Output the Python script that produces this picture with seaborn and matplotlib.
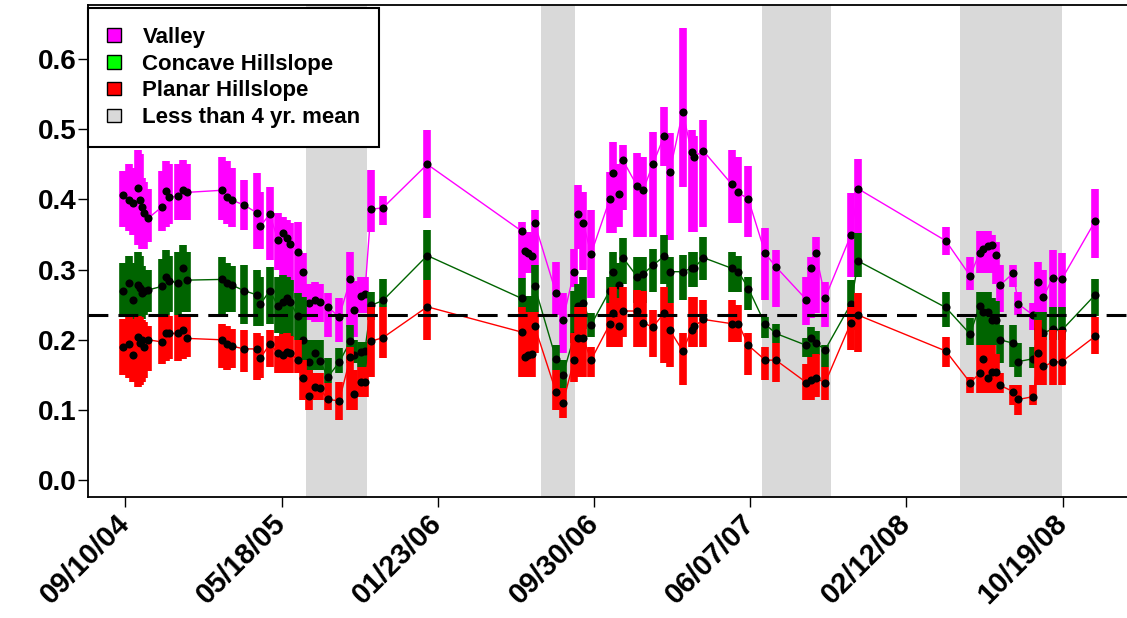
import numpy as np
import pandas as pd
import matplotlib
matplotlib.use("Agg")
import matplotlib.pyplot as plt
from matplotlib.patches import Patch
import seaborn as sns

# days after 09/10/04 for each sampling date
days = [-4, 6, 12, 20, 23, 26, 30, 36,
        58, 65, 70, 84, 92, 98,
        154, 162, 170, 190, 210, 216, 231, 244, 252, 258, 263, 276, 284,
        294, 303, 311, 324, 342, 360, 365, 377, 383, 393, 412, 483,
        634, 639, 645, 650, 655, 689, 700, 718, 725, 733, 745,
        775, 781, 790, 796, 819, 829, 844, 862, 871, 892, 906, 910, 925,
        970, 981, 997, 1024, 1041, 1090, 1098, 1105, 1120, 1161, 1173,
        1313, 1352, 1367, 1373, 1380, 1387, 1394, 1400, 1421, 1429, 1453,
        1461, 1469, 1484, 1499, 1552]

valley = [0.406, 0.399, 0.395, 0.416, 0.399, 0.389, 0.380, 0.373,
          0.389, 0.412, 0.403, 0.405, 0.413, 0.410,
          0.413, 0.404, 0.399, 0.392, 0.381, 0.362, 0.379, 0.342, 0.352, 0.345, 0.336, 0.325, 0.296,
          0.252, 0.257, 0.254, 0.246, 0.233, 0.286, 0.243, 0.263, 0.265, 0.386, 0.388, 0.450,
          0.355, 0.327, 0.323, 0.320, 0.366, 0.267, 0.228, 0.297, 0.379, 0.366, 0.322,
          0.400, 0.437, 0.408, 0.456, 0.419, 0.414, 0.450, 0.490, 0.439, 0.525, 0.467, 0.461, 0.469,
          0.422, 0.410, 0.400, 0.323, 0.304, 0.257, 0.302, 0.323, 0.260, 0.349, 0.415,
          0.341, 0.291, 0.324, 0.330, 0.333, 0.335, 0.321, 0.278, 0.295, 0.251, 0.235,
          0.283, 0.261, 0.288, 0.287, 0.369]
valley_lo = [0.360, 0.355, 0.350, 0.335, 0.335, 0.330, 0.330, 0.340,
             0.355, 0.360, 0.365, 0.370, 0.370, 0.370,
             0.370, 0.365, 0.360, 0.356, 0.330, 0.330, 0.314, 0.300, 0.290, 0.280, 0.270, 0.260, 0.261,
             0.228, 0.225, 0.225, 0.204, 0.197, 0.218, 0.204, 0.238, 0.238, 0.354, 0.363, 0.373,
             0.288, 0.295, 0.295, 0.295, 0.306, 0.235, 0.181, 0.275, 0.330, 0.300, 0.260,
             0.352, 0.352, 0.360, 0.385, 0.347, 0.347, 0.347, 0.447, 0.342, 0.418, 0.354, 0.354, 0.361,
             0.366, 0.366, 0.347, 0.257, 0.247, 0.221, 0.231, 0.238, 0.218, 0.290, 0.352,
             0.321, 0.271, 0.295, 0.295, 0.295, 0.295, 0.280, 0.240, 0.275, 0.235, 0.214,
             0.218, 0.228, 0.238, 0.235, 0.316]
valley_hi = [0.440, 0.450, 0.445, 0.470, 0.465, 0.430, 0.425, 0.415,
             0.440, 0.455, 0.450, 0.450, 0.456, 0.450,
             0.460, 0.455, 0.445, 0.428, 0.437, 0.410, 0.418, 0.380, 0.375, 0.370, 0.366, 0.368, 0.323,
             0.280, 0.283, 0.280, 0.266, 0.259, 0.325, 0.284, 0.290, 0.290, 0.442, 0.405, 0.499,
             0.368, 0.354, 0.354, 0.350, 0.385, 0.311, 0.266, 0.330, 0.420, 0.410, 0.385,
             0.439, 0.482, 0.450, 0.477, 0.466, 0.460, 0.496, 0.532, 0.494, 0.644, 0.499, 0.490, 0.513,
             0.470, 0.460, 0.447, 0.359, 0.328, 0.290, 0.318, 0.346, 0.283, 0.409, 0.458,
             0.360, 0.318, 0.355, 0.355, 0.355, 0.350, 0.340, 0.306, 0.306, 0.268, 0.252,
             0.311, 0.299, 0.328, 0.323, 0.415]

concave = [0.270, 0.281, 0.257, 0.278, 0.274, 0.266, 0.270, 0.271,
           0.276, 0.290, 0.284, 0.281, 0.302, 0.285,
           0.286, 0.281, 0.278, 0.270, 0.264, 0.251, 0.270, 0.248, 0.254, 0.259, 0.254, 0.234, 0.200,
           0.168, 0.181, 0.170, 0.147, 0.168, 0.198, 0.178, 0.183, 0.184, 0.249, 0.256, 0.320,
           0.259, 0.232, 0.230, 0.232, 0.276, 0.173, 0.150, 0.205, 0.248, 0.253, 0.221,
           0.270, 0.297, 0.278, 0.317, 0.290, 0.294, 0.306, 0.319, 0.297, 0.297, 0.302, 0.302, 0.317,
           0.302, 0.297, 0.273, 0.222, 0.209, 0.192, 0.202, 0.195, 0.186, 0.251, 0.312,
           0.246, 0.208, 0.248, 0.240, 0.240, 0.228, 0.228, 0.200, 0.195, 0.169, 0.173,
           0.215, 0.210, 0.215, 0.214, 0.264]
concave_lo = [0.235, 0.235, 0.230, 0.230, 0.230, 0.230, 0.235, 0.240,
              0.235, 0.235, 0.240, 0.235, 0.240, 0.240,
              0.237, 0.240, 0.240, 0.222, 0.220, 0.220, 0.222, 0.210, 0.205, 0.205, 0.204, 0.200, 0.157,
              0.150, 0.157, 0.157, 0.138, 0.152, 0.167, 0.167, 0.161, 0.161, 0.228, 0.247, 0.285,
              0.240, 0.215, 0.215, 0.215, 0.240, 0.157, 0.131, 0.195, 0.210, 0.215, 0.204,
              0.252, 0.252, 0.255, 0.280, 0.252, 0.252, 0.268, 0.280, 0.252, 0.257, 0.275, 0.275, 0.285,
              0.268, 0.268, 0.242, 0.202, 0.195, 0.176, 0.176, 0.178, 0.161, 0.214, 0.290,
              0.218, 0.192, 0.192, 0.192, 0.192, 0.192, 0.192, 0.167, 0.161, 0.147, 0.160,
              0.200, 0.200, 0.200, 0.200, 0.234]
concave_hi = [0.310, 0.320, 0.310, 0.325, 0.320, 0.305, 0.300, 0.300,
              0.315, 0.328, 0.320, 0.325, 0.335, 0.325,
              0.318, 0.310, 0.305, 0.306, 0.300, 0.290, 0.304, 0.290, 0.292, 0.290, 0.285, 0.266, 0.261,
              0.200, 0.200, 0.200, 0.174, 0.188, 0.221, 0.200, 0.197, 0.197, 0.268, 0.287, 0.356,
              0.288, 0.262, 0.262, 0.262, 0.306, 0.192, 0.171, 0.270, 0.280, 0.290, 0.238,
              0.290, 0.325, 0.310, 0.345, 0.318, 0.318, 0.330, 0.349, 0.318, 0.321, 0.325, 0.325, 0.347,
              0.325, 0.320, 0.290, 0.233, 0.223, 0.202, 0.218, 0.213, 0.192, 0.285, 0.352,
              0.268, 0.231, 0.268, 0.268, 0.268, 0.260, 0.255, 0.221, 0.221, 0.195, 0.190,
              0.240, 0.240, 0.247, 0.247, 0.287]

planar = [0.190, 0.194, 0.178, 0.204, 0.196, 0.199, 0.190, 0.200,
          0.197, 0.209, 0.209, 0.209, 0.214, 0.202,
          0.200, 0.194, 0.191, 0.187, 0.187, 0.174, 0.194, 0.181, 0.179, 0.183, 0.181, 0.171, 0.145,
          0.120, 0.133, 0.131, 0.115, 0.113, 0.175, 0.123, 0.140, 0.140, 0.198, 0.203, 0.247,
          0.211, 0.176, 0.178, 0.180, 0.219, 0.126, 0.110, 0.171, 0.202, 0.202, 0.171,
          0.222, 0.238, 0.219, 0.241, 0.241, 0.224, 0.218, 0.238, 0.214, 0.184, 0.214, 0.219, 0.229,
          0.223, 0.223, 0.192, 0.171, 0.171, 0.139, 0.143, 0.145, 0.139, 0.224, 0.235,
          0.184, 0.139, 0.152, 0.173, 0.145, 0.154, 0.154, 0.135, 0.126, 0.115, 0.119,
          0.181, 0.162, 0.168, 0.169, 0.205]
planar_lo = [0.150, 0.145, 0.140, 0.133, 0.135, 0.140, 0.145, 0.155,
             0.165, 0.170, 0.172, 0.170, 0.172, 0.175,
             0.160, 0.157, 0.160, 0.154, 0.142, 0.145, 0.161, 0.152, 0.152, 0.152, 0.152, 0.152, 0.114,
             0.100, 0.114, 0.114, 0.100, 0.086, 0.100, 0.100, 0.119, 0.119, 0.147, 0.174, 0.200,
             0.147, 0.147, 0.147, 0.147, 0.181, 0.100, 0.088, 0.140, 0.147, 0.147, 0.147,
             0.190, 0.190, 0.190, 0.204, 0.190, 0.190, 0.176, 0.167, 0.161, 0.135, 0.190, 0.190, 0.190,
             0.197, 0.197, 0.150, 0.142, 0.140, 0.114, 0.114, 0.118, 0.114, 0.185, 0.183,
             0.161, 0.124, 0.124, 0.124, 0.124, 0.124, 0.124, 0.124, 0.107, 0.093, 0.107,
             0.135, 0.135, 0.135, 0.135, 0.180]
planar_hi = [0.230, 0.234, 0.230, 0.234, 0.232, 0.228, 0.225, 0.220,
             0.232, 0.236, 0.234, 0.236, 0.236, 0.232,
             0.222, 0.220, 0.215, 0.214, 0.210, 0.205, 0.214, 0.206, 0.208, 0.210, 0.206, 0.200, 0.171,
             0.157, 0.152, 0.152, 0.138, 0.140, 0.190, 0.157, 0.161, 0.161, 0.247, 0.247, 0.285,
             0.247, 0.240, 0.240, 0.240, 0.240, 0.157, 0.131, 0.210, 0.247, 0.247, 0.190,
             0.252, 0.275, 0.260, 0.275, 0.271, 0.270, 0.242, 0.275, 0.252, 0.209, 0.261, 0.261, 0.257,
             0.257, 0.250, 0.209, 0.190, 0.195, 0.166, 0.176, 0.180, 0.161, 0.247, 0.266,
             0.204, 0.147, 0.192, 0.192, 0.192, 0.192, 0.180, 0.152, 0.135, 0.135, 0.135,
             0.228, 0.204, 0.214, 0.214, 0.232]

# periods below the 4 yr mean (days after 09/10/04)
shade_start = [289, 665, 1019, 1336]
shade_end = [386, 719, 1129, 1499]
four_yr_mean = 0.236

tick_labels = ["09/10/04", "05/18/05", "01/23/06", "09/30/06", "06/07/07", "02/12/08", "10/19/08"]
legend_labels = ["Valley", "Concave Hillslope", "Planar Hillslope", "Less than 4 yr. mean"]

start = pd.Timestamp("2004-09-10")
dates = start + pd.to_timedelta(days, unit="D")

sns.set_style("white")
plt.rcParams['font.family'] = ['Liberation Sans', 'DejaVu Sans']
plt.rcParams['text.color'] = 'black'
plt.rcParams['xtick.color'] = 'black'
plt.rcParams['ytick.color'] = 'black'

fig = plt.figure(figsize=(11.27, 6.18), dpi=100)
ax = fig.add_axes([88 / 1127, 121 / 618, 1 - 88 / 1127, 492 / 618])

for s, e in zip(shade_start, shade_end):
    ax.axvspan(start + pd.Timedelta(days=s), start + pd.Timedelta(days=e),
               color="#D9D9D9", lw=0, zorder=0)

series = [(valley, valley_lo, valley_hi, "#FF00FF"),
          (concave, concave_lo, concave_hi, "#006400"),
          (planar, planar_lo, planar_hi, "#FF0000")]

for i, (m, lo, hi, col) in enumerate(series):
    z = 2 + 3 * i
    sns.lineplot(x=dates, y=m, color=col, lw=1, ax=ax, sort=False, zorder=z)
    ax.vlines(dates, lo, hi, color=col, lw=5.5, zorder=z + 1)
    sns.scatterplot(x=dates, y=m, color="black", s=34, linewidth=0, ax=ax, zorder=z + 2)

ax.axhline(four_yr_mean, color="black", lw=2.2, ls=(0, (6.5, 3.3)), zorder=20)

ax.set_xlim(start + pd.Timedelta(days=-60), start + pd.Timedelta(days=1603))
ax.set_ylim(-0.024, 0.677)

ax.set_yticks(np.arange(0, 0.61, 0.1))
ax.set_yticklabels([f"{v:.1f}" for v in np.arange(0, 0.61, 0.1)], fontsize=20, fontweight="bold")
ax.set_xticks([start + pd.Timedelta(days=250 * k) for k in range(len(tick_labels))])
ax.set_xticklabels(tick_labels, rotation=45, ha="right", va="center", rotation_mode="anchor",
                   fontsize=21, fontweight="bold")
ax.tick_params(axis="y", direction="out", length=7, width=1, color="black", pad=1.5, left=True)
ax.tick_params(axis="x", direction="out", length=7, width=1, color="black", pad=9, bottom=True)
ax.set_xlabel("")
ax.set_ylabel("")

for side in ["left", "bottom", "top"]:
    ax.spines[side].set_color("black")
    ax.spines[side].set_linewidth(1.3)
ax.spines["right"].set_visible(False)

handles = [Patch(facecolor="#FF00FF", edgecolor="black"),
           Patch(facecolor="#00FF00", edgecolor="black"),
           Patch(facecolor="#FF0000", edgecolor="black"),
           Patch(facecolor="#D9D9D9", edgecolor="black")]
leg = ax.legend(handles, legend_labels, loc="upper left", bbox_to_anchor=(0, 1 - 3 / 492),
                prop={"weight": "bold", "size": 16}, frameon=True, fancybox=False,
                edgecolor="black", framealpha=1, borderaxespad=0, handlelength=0.65,
                handleheight=0.55, handletextpad=0.95, labelspacing=0.26, borderpad=0.85)
leg.get_frame().set_linewidth(1.5)
leg.set_zorder(30)

fig.savefig("out.png", dpi=100)
